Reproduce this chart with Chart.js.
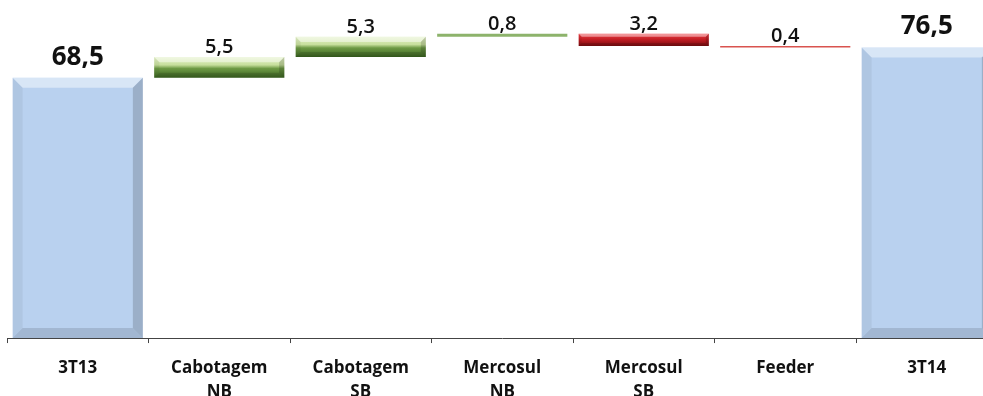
<!DOCTYPE html>
<html>
<head>
<meta charset="utf-8">
<script src="https://cdn.jsdelivr.net/npm/chart.js@4.4.1/dist/chart.umd.min.js"></script>
<style>
    html, body { margin: 0; padding: 0; background: #fff; overflow: hidden; }
    #wrap { position: relative; width: 1000px; height: 417px; }
</style>
</head>
<body>
<div id="wrap"><canvas id="chart"></canvas></div>
<script>
// waterfall data
const categories = [['3T13'], ['Cabotagem', 'NB'], ['Cabotagem', 'SB'], ['Mercosul', 'NB'], ['Mercosul', 'SB'], ['Feeder'], ['3T14']];
const startTotal = 68.5;
const deltas = [5.5, 5.3, 0.8, -3.2, -0.4];
const endTotal = 76.5;

// build the floating ranges from the values above
const ranges = [[0, startTotal]];
let running = startTotal;
deltas.forEach(d => {
    ranges.push([running, running + d]);
    running += d;
});
ranges.push([0, endTotal]);
const amounts = [startTotal, ...deltas, endTotal];

const fmt = v => Math.abs(v).toFixed(1).replace('.', ',');
const isTotal = i => i === 0 || i === categories.length - 1;

function barFill(context) {
    const i = context.dataIndex;
    const chart = context.chart;
    if (isTotal(i)) return '#B9D1EF';
    const v = amounts[i];
    if (Math.abs(v) < 1) return v > 0 ? '#8DB36B' : '#D9534F';
    const y = chart.scales.y;
    if (!chart.chartArea || !y) return v > 0 ? '#8DB36B' : '#C41E24';
    const r = ranges[i];
    const top = y.getPixelForValue(Math.max(r[0], r[1]));
    const bot = y.getPixelForValue(Math.min(r[0], r[1]));
    const g = chart.ctx.createLinearGradient(0, top, 0, bot);
    if (v > 0) {
        g.addColorStop(0, '#E4F1C9');
        g.addColorStop(0.38, '#C7DF9D');
        g.addColorStop(0.55, '#6E9A45');
        g.addColorStop(1, '#3A6320');
    } else {
        g.addColorStop(0, '#EC4046');
        g.addColorStop(0.45, '#C41E24');
        g.addColorStop(1, '#7A0D10');
    }
    return g;
}

function poly(ctx, pts, color) {
    ctx.beginPath();
    ctx.moveTo(pts[0][0], pts[0][1]);
    pts.slice(1).forEach(p => ctx.lineTo(p[0], p[1]));
    ctx.closePath();
    ctx.fillStyle = color;
    ctx.fill();
}

const bevelPlugin = {
    id: 'bevel',
    afterDatasetsDraw(chart) {
        const ctx = chart.ctx;
        const meta = chart.getDatasetMeta(0);
        ctx.save();
        meta.data.forEach((bar, i) => {
            const x0 = bar.x - bar.width / 2, x1 = bar.x + bar.width / 2;
            const y0 = Math.min(bar.y, bar.base), y1 = Math.max(bar.y, bar.base);
            const h = y1 - y0;
            if (h < 6) return;
            const s = isTotal(i) ? 10 : Math.min(10, h / 4);
            poly(ctx, [[x0, y0], [x1, y0], [x1 - s, y0 + s], [x0 + s, y0 + s]], 'rgba(255,255,255,0.45)');
            poly(ctx, [[x0, y1], [x1, y1], [x1 - s, y1 - s], [x0 + s, y1 - s]], 'rgba(0,0,0,0.12)');
            poly(ctx, [[x0, y0], [x0 + s, y0 + s], [x0 + s, y1 - s], [x0, y1]], 'rgba(0,0,0,0.05)');
            poly(ctx, [[x1, y0], [x1 - s, y0 + s], [x1 - s, y1 - s], [x1, y1]], 'rgba(0,0,0,0.16)');
        });
        ctx.restore();
    }
};

const labelPlugin = {
    id: 'valueLabels',
    afterDatasetsDraw(chart) {
        const ctx = chart.ctx;
        const meta = chart.getDatasetMeta(0);
        ctx.save();
        ctx.fillStyle = '#111';
        ctx.textAlign = 'center';
        ctx.textBaseline = 'alphabetic';
        meta.data.forEach((bar, i) => {
            const top = Math.min(bar.y, bar.base);
            if (isTotal(i)) {
                ctx.font = 'bold 26px "Open Sans"';
                ctx.fillText(fmt(amounts[i]), bar.x, top - 13);
            } else {
                ctx.font = '600 20px "Open Sans"';
                ctx.fillText(fmt(amounts[i]), bar.x, top - 4);
            }
        });
        ctx.restore();
    }
};

new Chart(document.getElementById('chart'), {
    type: 'bar',
    data: {
        labels: categories,
        datasets: [{
            data: ranges,
            backgroundColor: barFill,
            borderWidth: 0,
            barPercentage: 0.92,
            categoryPercentage: 1
        }]
    },
    options: {
        responsive: true,
        maintainAspectRatio: false,
        animation: false,
        layout: { padding: { left: 7, right: 2.5, top: 0, bottom: 0 } },
        plugins: {
            legend: { display: false },
            tooltip: { enabled: false }
        },
        scales: {
            x: {
                grid: {
                    display: true,
                    drawOnChartArea: false,
                    drawTicks: true,
                    tickLength: 5,
                    color: '#444',
                    offset: true
                },
                border: { display: true, color: '#444', width: 1 },
                ticks: {
                    color: '#111',
                    padding: 13,
                    maxRotation: 0,
                    autoSkip: false,
                    font: { family: '"Open Sans"', size: 17, weight: 'bold', lineHeight: 1.41 }
                }
            },
            y: {
                display: false,
                min: 0,
                max: 89
            }
        }
    },
    plugins: [bevelPlugin, labelPlugin]
});
</script>
</body>
</html>
